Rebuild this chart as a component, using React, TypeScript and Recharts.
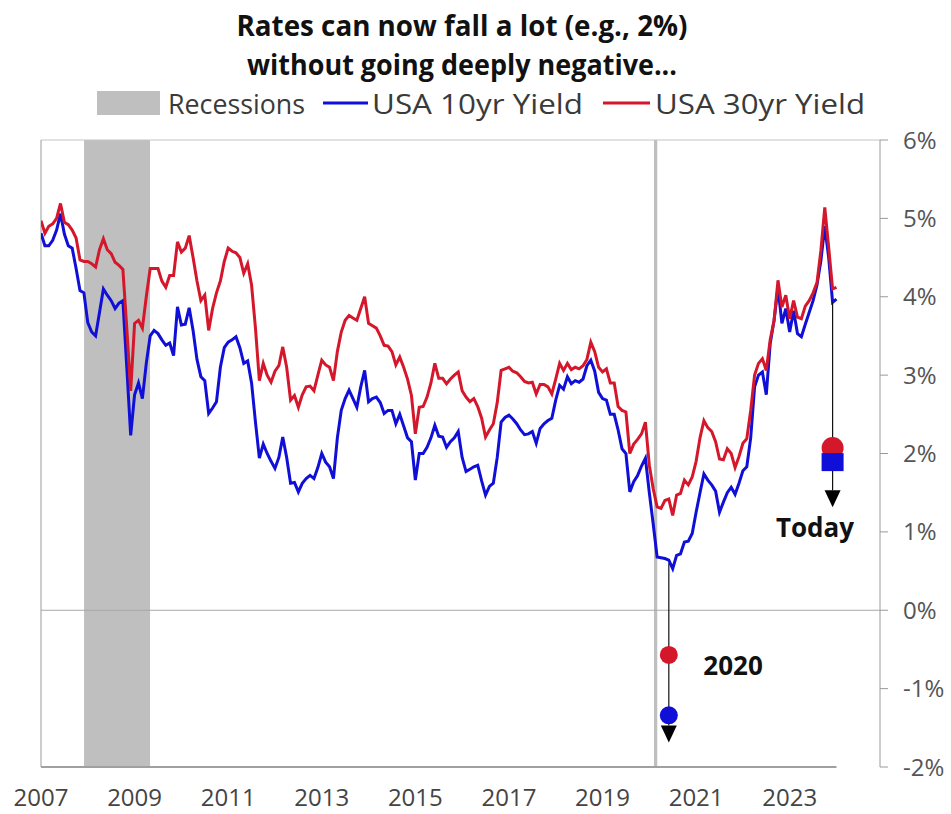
import React from "react";
import {
  ComposedChart, Line, XAxis, YAxis, ReferenceArea, ReferenceLine, ReferenceDot,
} from "recharts";

// monthly yields, Jan 2007 .. Jan 2024
const START_YEAR = 2007;

const tenYear = [
  4.81, 4.65, 4.65, 4.72, 4.85, 5.06, 4.8, 4.65, 4.62, 4.36, 4.08, 4.05, // 2007
  3.67, 3.55, 3.5, 3.8, 4.1, 4.02, 3.95, 3.85, 3.92, 3.95, 3.1, 2.23, // 2008
  2.75, 2.9, 2.7, 3.15, 3.5, 3.57, 3.53, 3.45, 3.38, 3.41, 3.25, 3.87, // 2009
  3.64, 3.65, 3.86, 3.57, 3.2, 2.98, 2.93, 2.51, 2.58, 2.66, 3.1, 3.35, // 2010
  3.42, 3.45, 3.49, 3.35, 3.15, 3.18, 2.9, 2.4, 1.94, 2.12, 2.0, 1.9, // 2011
  1.81, 1.95, 2.21, 1.95, 1.62, 1.63, 1.51, 1.62, 1.68, 1.72, 1.68, 1.82, // 2012
  2.0, 1.89, 1.83, 1.68, 2.2, 2.55, 2.7, 2.81, 2.7, 2.59, 2.85, 3.06, // 2013
  2.66, 2.7, 2.72, 2.65, 2.51, 2.55, 2.55, 2.38, 2.5, 2.35, 2.2, 2.15, // 2014
  1.66, 2.0, 2.0, 2.08, 2.2, 2.36, 2.22, 2.21, 2.08, 2.15, 2.2, 2.28, // 2015
  1.95, 1.77, 1.8, 1.83, 1.85, 1.65, 1.47, 1.58, 1.62, 1.95, 2.4, 2.46, // 2016
  2.49, 2.44, 2.38, 2.3, 2.24, 2.25, 2.28, 2.13, 2.32, 2.38, 2.42, 2.45, // 2017
  2.68, 2.87, 2.82, 2.98, 2.89, 2.93, 2.91, 2.95, 3.12, 3.19, 3.05, 2.78, // 2018
  2.7, 2.68, 2.5, 2.5, 2.3, 2.06, 2.0, 1.51, 1.64, 1.72, 1.84, 1.94, // 2019
  1.5, 1.1, 0.68, 0.67, 0.66, 0.64, 0.53, 0.7, 0.72, 0.87, 0.88, 0.98, // 2020
  1.25, 1.5, 1.74, 1.66, 1.6, 1.52, 1.25, 1.38, 1.5, 1.57, 1.48, 1.62, // 2021
  1.78, 1.83, 2.2, 2.85, 3.0, 3.04, 2.75, 3.4, 3.7, 4.12, 3.66, 3.85, // 2022
  3.55, 3.82, 3.53, 3.49, 3.65, 3.8, 3.95, 4.15, 4.46, 4.9, 4.5, 3.93, // 2023
  3.97, // 2024
];

const thirtyYear = [
  4.97, 4.81, 4.9, 4.93, 5.0, 5.19, 4.95, 4.92, 4.85, 4.75, 4.47, 4.45,
  4.45, 4.42, 4.38, 4.6, 4.74, 4.6, 4.55, 4.44, 4.4, 4.35, 3.6, 2.8,
  3.66, 3.7, 3.6, 4.0, 4.36, 4.36, 4.36, 4.2, 4.12, 4.27, 4.27, 4.7,
  4.57, 4.62, 4.78, 4.5, 4.2, 3.95, 4.02, 3.57, 3.85, 4.05, 4.2, 4.45,
  4.62, 4.58, 4.56, 4.5, 4.3, 4.42, 4.15, 3.6, 2.93, 3.15, 3.0, 2.91,
  3.05, 3.12, 3.36, 3.1, 2.68, 2.74, 2.59, 2.75, 2.85, 2.86, 2.8, 3.0,
  3.19, 3.13, 3.1, 2.93, 3.3, 3.55, 3.7, 3.76, 3.73, 3.7, 3.85, 4.0,
  3.66, 3.63, 3.6, 3.5, 3.38, 3.37, 3.3, 3.13, 3.23, 3.1, 2.95, 2.74,
  2.25, 2.59, 2.6, 2.72, 2.9, 3.15, 2.96, 2.96, 2.89, 2.95, 3.0, 3.04,
  2.8, 2.72, 2.66, 2.7, 2.6, 2.45, 2.21, 2.3, 2.38, 2.65, 3.06, 3.08,
  3.1, 3.05, 3.03, 2.98, 2.92, 2.9, 2.91, 2.76, 2.88, 2.88, 2.85, 2.76,
  2.95, 3.15, 3.06, 3.15, 3.07, 3.1, 3.08, 3.12, 3.2, 3.42, 3.3, 3.1,
  3.04, 3.08, 2.9, 2.9, 2.6, 2.55, 2.53, 2.0, 2.12, 2.18, 2.25, 2.4,
  1.85, 1.55, 1.32, 1.3, 1.4, 1.42, 1.21, 1.47, 1.49, 1.66, 1.6, 1.7,
  1.9, 2.2, 2.42, 2.33, 2.28, 2.15, 1.93, 1.92, 2.06, 2.0, 1.82, 1.96,
  2.13, 2.19, 2.55, 3.0, 3.15, 3.21, 3.06, 3.45, 3.7, 4.21, 3.87, 4.02,
  3.72, 3.95, 3.74, 3.72, 3.88, 3.95, 4.05, 4.18, 4.59, 5.14, 4.63, 4.1,
  4.12,
];

const recessions = [
  [2007.92, 2009.33],
  [2020.1, 2020.17],
];

const xTicks = [2007, 2009, 2011, 2013, 2015, 2017, 2019, 2021, 2023];
const yTicks = [-2, -1, 0, 1, 2, 3, 4, 5, 6];

// "what if rates fell 2%" markers
const drop2020 = { t: 2020.417, from: 0.6, y30: -0.57, y10: -1.34, arrow: -1.47, labelT: 2021.79, labelY: -0.7, label: "2020" };
const dropToday = { t: 2023.917, from: 3.93, y30: 2.07, y10: 1.89, arrow: 1.53, labelT: 2023.54, labelY: 1.06, label: "Today" };

const BLUE = "#0f0fd8";
const RED = "#d5172b";
const GREY = "#bfbfbf";
const FONT = '"Open Sans", sans-serif';

const data = tenYear.map((v, i) => ({ t: START_YEAR + i / 12, ten: v, thirty: thirtyYear[i] }));

const legendItems = [
  { kind: "box", color: GREY, label: "Recessions", x0: 97, x1: 160, tx: 168, tw: 137 },
  { kind: "line", color: BLUE, label: "USA 10yr Yield", x0: 323, x1: 368, tx: 372, tw: 211 },
  { kind: "line", color: RED, label: "USA 30yr Yield", x0: 603, x1: 650, tx: 655, tw: 210 },
];

const arrowShape = (p: any) => (
  <polygon points={`${p.cx - 8},${p.cy} ${p.cx + 8},${p.cy} ${p.cx},${p.cy + 17}`} fill="#000" />
);
const squareShape = (p: any) => (
  <rect x={p.cx - 11} y={p.cy - 9} width={22} height={18} fill={BLUE} />
);
const textShape = (label: string) => (p: any) => (
  <text x={p.cx} y={p.cy} textAnchor="middle" dominantBaseline="central"
    fontFamily={FONT} fontWeight={700} fontSize={26} fill="#111">{label}</text>
);

export default function App() {
  return (
    <div style={{ position: "absolute", left: 0, top: 0, width: 951, height: 814, background: "#fff" }}>
      <ComposedChart width={951} height={814} data={data}
        margin={{ top: 140, right: 0, bottom: 0, left: 41 }}>
        {recessions.map(([a, b], i) => (
          <ReferenceArea key={i} x1={a} x2={b} y1={-2} y2={6} fill={GREY} fillOpacity={1} stroke="none" />
        ))}
        <ReferenceLine y={6} stroke="#c4c4c4" />
        <ReferenceLine x={2007} stroke="#9a9a9a" />
        <ReferenceLine y={0} stroke="#a8a8a8" />
        <ReferenceLine segment={[{ x: 2007, y: -2 }, { x: 2024, y: -2 }]} stroke="#a0a0a0" strokeWidth={2} />
        <XAxis type="number" dataKey="t" domain={[2007, 2024.93]} ticks={xTicks} interval={0}
          tickFormatter={(v) => String(v)} axisLine={false} tickLine={false} tickSize={0} tickMargin={22}
          height={47} tick={{ fill: "#444", fontSize: 24, fontFamily: FONT }} allowDataOverflow />
        <YAxis orientation="right" domain={[-2, 6]} ticks={yTicks} interval={0}
          tickFormatter={(v) => `${v}%`} width={71} axisLine={{ stroke: "#9a9a9a" }}
          tickLine={{ stroke: "#9a9a9a" }} tickSize={8} tickMargin={15}
          tick={{ fill: "#555", fontSize: 24, fontFamily: FONT }} allowDataOverflow />
        <Line type="linear" dataKey="ten" stroke={BLUE} strokeWidth={3} dot={false} isAnimationActive={false} />
        <Line type="linear" dataKey="thirty" stroke={RED} strokeWidth={3} dot={false} isAnimationActive={false} />

        {[drop2020, dropToday].map((d) => (
          <ReferenceLine key={d.label + "l"} segment={[{ x: d.t, y: d.from }, { x: d.t, y: d.arrow }]} stroke="#111" strokeWidth={1.2} />
        ))}
        {[drop2020, dropToday].map((d) => (
          <ReferenceDot key={d.label + "a"} x={d.t} y={d.arrow} shape={arrowShape} />
        ))}
        <ReferenceDot x={drop2020.t} y={drop2020.y30} r={9} fill={RED} stroke="none" />
        <ReferenceDot x={drop2020.t} y={drop2020.y10} r={9} fill={BLUE} stroke="none" />
        <ReferenceDot x={dropToday.t} y={dropToday.y30} r={11} fill={RED} stroke="none" />
        <ReferenceDot x={dropToday.t} y={dropToday.y10} shape={squareShape} />
        {[drop2020, dropToday].map((d) => (
          <ReferenceDot key={d.label + "t"} x={d.labelT} y={d.labelY} shape={textShape(d.label)} />
        ))}
      </ComposedChart>

      <svg width={951} height={135} style={{ position: "absolute", left: 0, top: 0 }}>
        <text x={462} y={36} textAnchor="middle" fontFamily={FONT} fontWeight={700} fontSize={28}
          fill="#111" textLength={451} lengthAdjust="spacingAndGlyphs">Rates can now fall a lot (e.g., 2%)</text>
        <text x={462} y={75} textAnchor="middle" fontFamily={FONT} fontWeight={700} fontSize={28}
          fill="#111" textLength={430} lengthAdjust="spacingAndGlyphs">without going deeply negative...</text>
        {legendItems.map((it) => (
          <g key={it.label}>
            {it.kind === "box"
              ? <rect x={it.x0} y={91} width={it.x1 - it.x0} height={24} fill={it.color} />
              : <line x1={it.x0} x2={it.x1} y1={103} y2={103} stroke={it.color} strokeWidth={3} />}
            <text x={it.tx} y={114} fontFamily={FONT} fontSize={28} fill="#3a3a3a"
              textLength={it.tw} lengthAdjust="spacingAndGlyphs">{it.label}</text>
          </g>
        ))}
      </svg>
    </div>
  );
}
